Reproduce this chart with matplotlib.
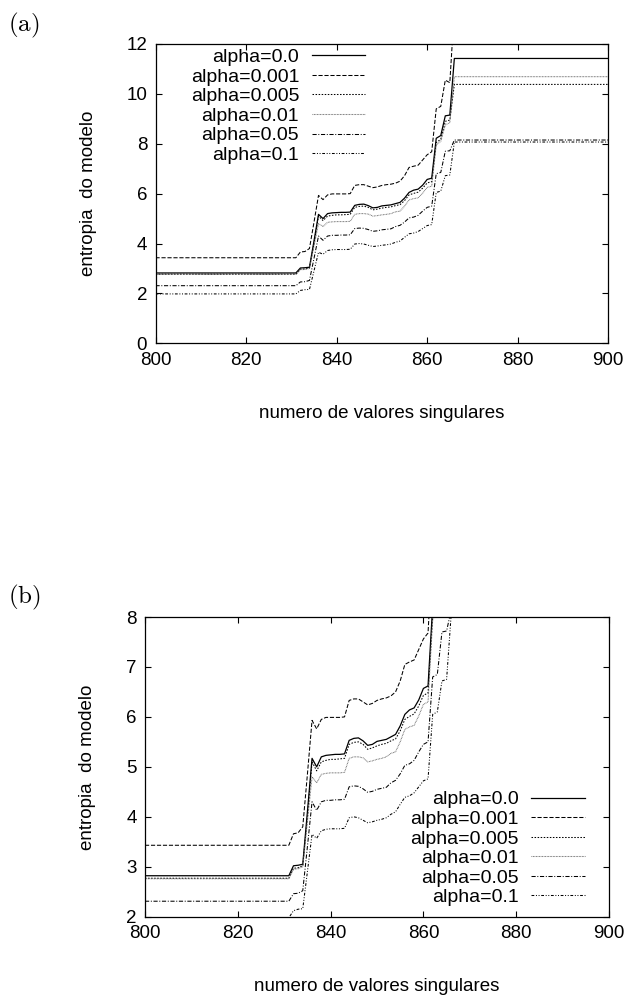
import matplotlib
matplotlib.use("Agg")
import matplotlib.pyplot as plt

plt.rcParams["font.family"] = ["Liberation Sans", "DejaVu Sans"]
plt.rcParams["mathtext.fontset"] = "cm"
plt.rcParams["lines.scale_dashes"] = False

# x grid: flat start, one point per singular value in the transition, flat end
x_pts = [800] + list(range(831, 867)) + [900]

labels = ["alpha=0.0", "alpha=0.001", "alpha=0.005", "alpha=0.01", "alpha=0.05", "alpha=0.1"]

y_a0 = [2.82,
        2.82, 3.02, 3.03, 3.05, 4.10, 5.17, 5.00, 5.20, 5.23, 5.24, 5.25, 5.25,
        5.26, 5.53, 5.57, 5.58, 5.52, 5.43, 5.45, 5.51, 5.53, 5.55, 5.60, 5.65,
        5.82, 6.05, 6.14, 6.18, 6.34, 6.57, 6.62, 8.22, 8.33, 9.12, 9.15, 11.42,
        11.42]
y_a0001 = [3.43,
           3.43, 3.66, 3.68, 3.80, 4.85, 5.93, 5.76, 5.95, 5.99, 5.99, 5.99, 5.99,
           6.00, 6.33, 6.36, 6.36, 6.30, 6.24, 6.27, 6.33, 6.36, 6.38, 6.42, 6.50,
           6.72, 7.05, 7.10, 7.14, 7.35, 7.56, 7.68, 9.40, 9.50, 10.55, 10.45, 13.40,
           13.40]
y_a0005 = [2.77,
           2.77, 2.97, 2.98, 3.02, 4.00, 5.10, 4.92, 5.10, 5.13, 5.15, 5.15, 5.16,
           5.17, 5.45, 5.49, 5.50, 5.45, 5.35, 5.38, 5.42, 5.45, 5.47, 5.52, 5.56,
           5.72, 5.95, 6.01, 6.06, 6.22, 6.43, 6.48, 8.05, 8.18, 8.90, 8.95, 10.38,
           10.38]
y_a001 = [2.76,
          2.76, 2.95, 2.96, 3.00, 3.90, 4.80, 4.68, 4.85, 4.87, 4.88, 4.88, 4.88,
          4.89, 5.17, 5.20, 5.20, 5.18, 5.10, 5.12, 5.15, 5.17, 5.20, 5.27, 5.30,
          5.50, 5.75, 5.80, 5.83, 6.02, 6.25, 6.30, 7.95, 8.10, 8.75, 8.85, 10.69,
          10.69]
y_a005 = [2.31,
          2.31, 2.46, 2.47, 2.52, 3.40, 4.30, 4.13, 4.30, 4.33, 4.33, 4.34, 4.34,
          4.35, 4.60, 4.62, 4.61, 4.56, 4.49, 4.51, 4.55, 4.57, 4.59, 4.68, 4.73,
          4.86, 5.03, 5.06, 5.13, 5.30, 5.45, 5.50, 6.80, 6.85, 7.70, 7.72, 8.15,
          8.15]
y_a01 = [1.98,
         1.98, 2.12, 2.15, 2.16, 2.90, 3.65, 3.57, 3.72, 3.75, 3.76, 3.76, 3.76,
         3.77, 3.98, 4.00, 3.98, 3.93, 3.88, 3.90, 3.93, 3.95, 3.98, 4.05, 4.10,
         4.25, 4.39, 4.42, 4.48, 4.60, 4.72, 4.76, 6.05, 6.10, 6.72, 6.75, 8.07,
         8.07]

series = [y_a0, y_a0001, y_a0005, y_a001, y_a005, y_a01]

# gnuplot-like monochrome line types
styles = [
    dict(color="black", lw=0.9, ls="-"),
    dict(color="black", lw=0.75, ls=(0, (3.0, 1.3))),
    dict(color="black", lw=0.75, ls=(0, (1.1, 1.1))),
    dict(color="0.4", lw=0.75, ls=(0, (0.55, 0.55))),
    dict(color="black", lw=0.75, ls=(0, (3.0, 1.2, 0.7, 1.2))),
    dict(color="black", lw=0.75, ls=(0, (2.0, 1.2, 0.7, 1.2, 0.7, 1.2))),
]

fig = plt.figure(figsize=(6.31, 9.99), dpi=100)
W, H = 631.0, 999.0


def make_panel(rect_px, ylim, yticks, leg_anchor, tag, tag_y, ylab_x):
    x0, x1, y0, y1 = rect_px
    ax = fig.add_axes([x0 / W, 1 - y1 / H, (x1 - x0) / W, (y1 - y0) / H])
    for y, lab, st in zip(series, labels, styles):
        ax.plot(x_pts, y, label=lab, **st)
    ax.set_xlim(800, 900)
    ax.set_ylim(*ylim)
    ax.set_xticks(range(800, 901, 20))
    ax.set_yticks(yticks)
    ax.tick_params(direction="in", top=True, right=True, length=4, width=0.8,
                   labelsize=13.5, pad=6)
    for s in ax.spines.values():
        s.set_linewidth(0.9)
    ax.set_xlabel("numero de valores singulares", fontsize=13.5)
    ax.set_ylabel("entropia  do modelo", fontsize=13.5)
    ax.xaxis.set_label_coords(0.5, -0.205)
    ax.yaxis.set_label_coords(ylab_x, 0.5)
    # gnuplot style key: text right-aligned, sample line after it
    ax.legend(loc="upper right", bbox_to_anchor=leg_anchor, markerfirst=False,
              frameon=False, fontsize=14, handlelength=2.75, handletextpad=0.64,
              labelspacing=0.1, borderpad=0, borderaxespad=0)
    fig.text(8 / W, 1 - tag_y / H, tag, fontsize=18, va="center", ha="left")
    return ax


ax_a = make_panel((155.5, 608.3, 44, 343.3), (0, 12), range(0, 13, 2),
                  (0.463, 0.985), r"$\mathrm{(a)}$", 25, -0.13)
ax_b = make_panel((145, 609, 617, 916.7), (2, 8), range(2, 9),
                  (0.948, 0.42), r"$\mathrm{(b)}$", 597, -0.105)

fig.savefig("out.png", dpi=100)
